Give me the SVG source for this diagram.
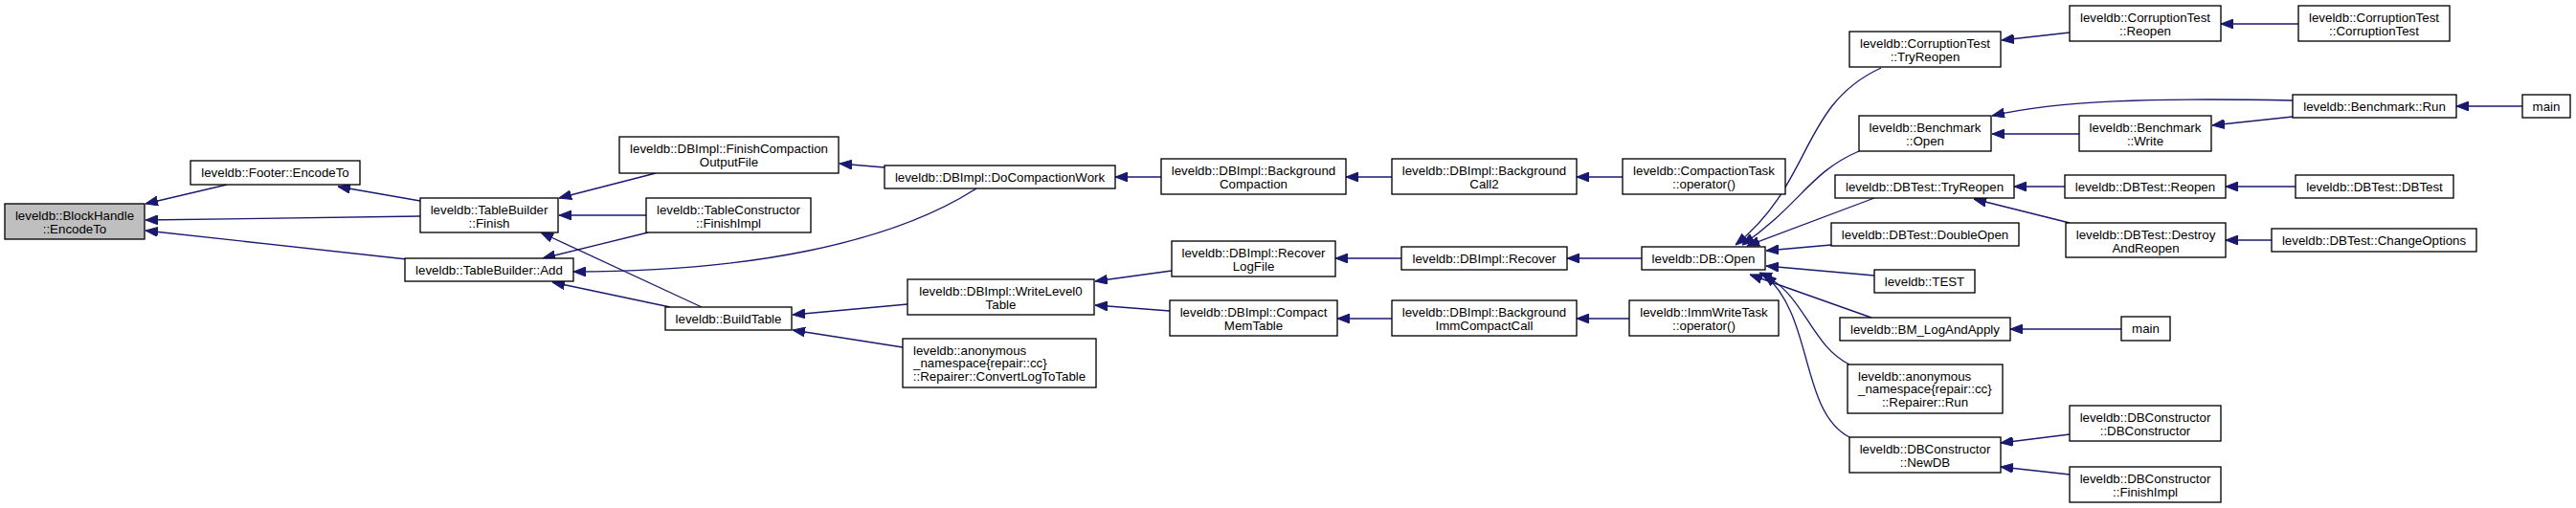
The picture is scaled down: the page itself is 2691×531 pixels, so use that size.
<svg xmlns="http://www.w3.org/2000/svg" width="2691" height="531" viewBox="0 0 2691 531">
<style>
  .n rect { fill: #ffffff; stroke: #000000; stroke-width: 1.33; }
  .n.root rect { fill: #bfbfbf; }
  .n text { font-family: "Liberation Sans", Arial, Helvetica, sans-serif; font-size: 13.3px; fill: #000000; text-anchor: middle; }
  .n text.l { text-anchor: start; }
  .e path { fill: none; stroke: #191970; stroke-width: 1.33; marker-end: url(#arr); }
</style>
<defs>
  <marker id="arr" markerUnits="userSpaceOnUse" markerWidth="13" markerHeight="10" viewBox="0 0 13 10" refX="13" refY="5" orient="auto">
    <path d="M0,0 L13,5 L0,10 z" fill="#191970" stroke="#191970" stroke-width="1"/>
  </marker>
</defs>
<rect x="0" y="0" width="2691" height="531" fill="#ffffff"/>

<g id="edges" class="e">
  <path d="M237,193 L152,213"/>
  <path d="M439,226 L152,230"/>
  <path d="M425,271 L152,241"/>
  <path d="M439,210 L353,195"/>
  <path d="M685,181 L584,207"/>
  <path d="M675,225 L584,225"/>
  <path d="M733,321 L565,243"/>
  <path d="M677,243 L567,270"/>
  <path d="M1020,197 C930,255 780,284 599,284"/>
  <path d="M700,321 L577,295"/>
  <path d="M924,175 L877,171"/>
  <path d="M1213,185 L1165,185"/>
  <path d="M1454,185 L1406,185"/>
  <path d="M1695,185 L1647,185"/>
  <path d="M948,318 L828,329"/>
  <path d="M943,363 L828,345"/>
  <path d="M1224,283 L1144,294"/>
  <path d="M1222,325 L1144,319"/>
  <path d="M1464,270 L1395,270"/>
  <path d="M1715,270 L1637,270"/>
  <path d="M1454,333 L1397,333"/>
  <path d="M1702,333 L1647,333"/>
  <path d="M1965,71 C1880,110 1895,190 1813,256"/>
  <path d="M1942,158 C1890,180 1880,215 1820,256"/>
  <path d="M1958,207 L1825,257"/>
  <path d="M1913,256 L1845,262"/>
  <path d="M1958,288 L1845,278"/>
  <path d="M1955,332 L1828,287"/>
  <path d="M1932,381 C1890,360 1885,305 1838,285"/>
  <path d="M1932,457 C1880,430 1895,330 1843,287"/>
  <path d="M2162,34 L2091,42"/>
  <path d="M2401,25 L2320,25"/>
  <path d="M2395,105 C2250,102 2150,105 2081,121"/>
  <path d="M2172,140 L2081,140"/>
  <path d="M2395,122 L2311,131"/>
  <path d="M2635,111 L2566,111"/>
  <path d="M2157,195 L2104,195"/>
  <path d="M2398,195 L2325,195"/>
  <path d="M2162,233 L2062,208"/>
  <path d="M2373,251 L2325,251"/>
  <path d="M2216,344 L2100,344"/>
  <path d="M2162,454 L2090,463"/>
  <path d="M2162,496 L2090,488"/>
</g>

<g id="n1" class="n root"><rect x="5" y="213" width="146" height="37"/><text x="78" y="229.5">leveldb::BlockHandle</text><text x="78" y="243.5">::EncodeTo</text></g>
<g id="n2" class="n"><rect x="199" y="168" width="177" height="25"/><text x="287.5" y="185">leveldb::Footer::EncodeTo</text></g>
<g id="n3" class="n"><rect x="439" y="207" width="144" height="36"/><text x="511" y="223.5">leveldb::TableBuilder</text><text x="511" y="237.5">::Finish</text></g>
<g id="n4" class="n"><rect x="423" y="270" width="176" height="24"/><text x="511" y="287">leveldb::TableBuilder::Add</text></g>
<g id="n5" class="n"><rect x="647" y="143" width="229" height="38"/><text x="761.5" y="159.5">leveldb::DBImpl::FinishCompaction</text><text x="761.5" y="173.5">OutputFile</text></g>
<g id="n6" class="n"><rect x="675" y="207" width="172" height="36"/><text x="761" y="223.5">leveldb::TableConstructor</text><text x="761" y="237.5">::FinishImpl</text></g>
<g id="n7" class="n"><rect x="695" y="321" width="132" height="24"/><text x="761" y="338">leveldb::BuildTable</text></g>
<g id="n8" class="n"><rect x="924" y="173" width="241" height="24"/><text x="1044.5" y="190">leveldb::DBImpl::DoCompactionWork</text></g>
<g id="n9" class="n"><rect x="948" y="292" width="195" height="37"/><text x="1045.5" y="308.5">leveldb::DBImpl::WriteLevel0</text><text x="1045.5" y="322.5">Table</text></g>
<g id="n10" class="n"><rect x="943" y="354" width="202" height="51"/><text class="l" x="954" y="370.5">leveldb::anonymous</text><text class="l" x="954" y="384">_namespace{repair::cc}</text><text x="1044" y="397.5">::Repairer::ConvertLogToTable</text></g>
<g id="n11" class="n"><rect x="1213" y="166" width="193" height="37"/><text x="1309.5" y="182.5">leveldb::DBImpl::Background</text><text x="1309.5" y="196.5">Compaction</text></g>
<g id="n12" class="n"><rect x="1224" y="252" width="171" height="37"/><text x="1309.5" y="268.5">leveldb::DBImpl::Recover</text><text x="1309.5" y="282.5">LogFile</text></g>
<g id="n13" class="n"><rect x="1222" y="314" width="175" height="37"/><text x="1309.5" y="330.5">leveldb::DBImpl::Compact</text><text x="1309.5" y="344.5">MemTable</text></g>
<g id="n14" class="n"><rect x="1454" y="166" width="193" height="37"/><text x="1550.5" y="182.5">leveldb::DBImpl::Background</text><text x="1550.5" y="196.5">Call2</text></g>
<g id="n15" class="n"><rect x="1464" y="258" width="173" height="24"/><text x="1550.5" y="275">leveldb::DBImpl::Recover</text></g>
<g id="n16" class="n"><rect x="1454" y="314" width="193" height="37"/><text x="1550.5" y="330.5">leveldb::DBImpl::Background</text><text x="1550.5" y="344.5">ImmCompactCall</text></g>
<g id="n17" class="n"><rect x="1695" y="166" width="170" height="37"/><text x="1780" y="182.5">leveldb::CompactionTask</text><text x="1780" y="196.5">::operator()</text></g>
<g id="n18" class="n"><rect x="1702" y="314" width="156" height="37"/><text x="1780" y="330.5">leveldb::ImmWriteTask</text><text x="1780" y="344.5">::operator()</text></g>
<g id="n19" class="n"><rect x="1715" y="258" width="129" height="24"/><text x="1779.5" y="275">leveldb::DB::Open</text></g>
<g id="n20" class="n"><rect x="1932" y="33" width="158" height="37"/><text x="2011" y="49.5">leveldb::CorruptionTest</text><text x="2011" y="63.5">::TryReopen</text></g>
<g id="n21" class="n"><rect x="1942" y="121" width="138" height="37"/><text x="2011" y="137.5">leveldb::Benchmark</text><text x="2011" y="151.5">::Open</text></g>
<g id="n22" class="n"><rect x="1917" y="183" width="187" height="24"/><text x="2010.5" y="200">leveldb::DBTest::TryReopen</text></g>
<g id="n23" class="n"><rect x="1913" y="233" width="196" height="24"/><text x="2011" y="250">leveldb::DBTest::DoubleOpen</text></g>
<g id="n24" class="n"><rect x="1958" y="282" width="105" height="24"/><text x="2010.5" y="299">leveldb::TEST</text></g>
<g id="n25" class="n"><rect x="1922" y="332" width="178" height="24"/><text x="2011" y="349">leveldb::BM_LogAndApply</text></g>
<g id="n26" class="n"><rect x="1930" y="381" width="162" height="51"/><text class="l" x="1941" y="397.5">leveldb::anonymous</text><text class="l" x="1941" y="411">_namespace{repair::cc}</text><text x="2011" y="424.5">::Repairer::Run</text></g>
<g id="n27" class="n"><rect x="1932" y="457" width="158" height="37"/><text x="2011" y="473.5">leveldb::DBConstructor</text><text x="2011" y="487.5">::NewDB</text></g>
<g id="n28" class="n"><rect x="2162" y="6" width="158" height="37"/><text x="2241" y="22.5">leveldb::CorruptionTest</text><text x="2241" y="36.5">::Reopen</text></g>
<g id="n29" class="n"><rect x="2401" y="6" width="158" height="37"/><text x="2480" y="22.5">leveldb::CorruptionTest</text><text x="2480" y="36.5">::CorruptionTest</text></g>
<g id="n30" class="n"><rect x="2172" y="121" width="138" height="37"/><text x="2241" y="137.5">leveldb::Benchmark</text><text x="2241" y="151.5">::Write</text></g>
<g id="n31" class="n"><rect x="2395" y="99" width="171" height="24"/><text x="2480.5" y="116">leveldb::Benchmark::Run</text></g>
<g id="n32" class="n"><rect x="2635" y="99" width="50" height="24"/><text x="2660" y="116">main</text></g>
<g id="n33" class="n"><rect x="2157" y="183" width="168" height="24"/><text x="2241" y="200">leveldb::DBTest::Reopen</text></g>
<g id="n34" class="n"><rect x="2398" y="183" width="165" height="24"/><text x="2480.5" y="200">leveldb::DBTest::DBTest</text></g>
<g id="n35" class="n"><rect x="2158" y="233" width="167" height="36"/><text x="2241.5" y="249.5">leveldb::DBTest::Destroy</text><text x="2241.5" y="263.5">AndReopen</text></g>
<g id="n36" class="n"><rect x="2373" y="239" width="214" height="24"/><text x="2480" y="256">leveldb::DBTest::ChangeOptions</text></g>
<g id="n37" class="n"><rect x="2216" y="331" width="51" height="25"/><text x="2241.5" y="348">main</text></g>
<g id="n38" class="n"><rect x="2162" y="424" width="158" height="37"/><text x="2241" y="440.5">leveldb::DBConstructor</text><text x="2241" y="454.5">::DBConstructor</text></g>
<g id="n39" class="n"><rect x="2162" y="488" width="158" height="37"/><text x="2241" y="504.5">leveldb::DBConstructor</text><text x="2241" y="518.5">::FinishImpl</text></g>
</svg>
